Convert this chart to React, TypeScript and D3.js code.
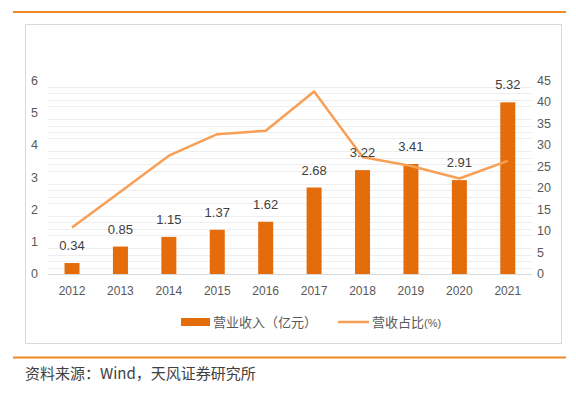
import React, { useEffect, useRef } from "react";
import * as d3 from "d3";

const years = ["2012", "2013", "2014", "2015", "2016", "2017", "2018", "2019", "2020", "2021"];
const revenue = [0.34, 0.85, 1.15, 1.37, 1.62, 2.68, 3.22, 3.41, 2.91, 5.32];
const share = [10.8, 19.1, 27.5, 32.5, 33.3, 42.4, 27.2, 25.1, 22.2, 26.3];
const leftTicks = [0, 1, 2, 3, 4, 5, 6];
const rightTicks = [0, 5, 10, 15, 20, 25, 30, 35, 40, 45];

const W = 576;
const H = 395;
const BAR = "#e46c0a";
const LINE = "#f79f55";
const FONT = "'Liberation Sans', Arial, 'Noto Sans CJK SC', sans-serif";
const CJK = "'Noto Sans CJK SC', sans-serif";

const App = () => {
  const ref = useRef<SVGSVGElement>(null);

  useEffect(() => {
    const svg = d3.select(ref.current);
    svg.selectAll("*").remove();

    const margin = { left: 47.8, right: 532, top: 80.4, bottom: 274 };

    const x = d3.scaleBand().domain(years).range([margin.left, margin.right]).padding(0);
    const yL = d3.scaleLinear().domain([0, 6]).range([margin.bottom, margin.top]);
    const yR = d3.scaleLinear().domain([0, 45]).range([margin.bottom, margin.top]);

    svg.append("rect").attr("width", W).attr("height", H).attr("fill", "#fff");

    // top and bottom orange rules
    svg.append("line").attr("x1", 13).attr("x2", 566).attr("y1", 12).attr("y2", 12)
      .attr("stroke", "#f08a24").attr("stroke-width", 2);
    svg.append("line").attr("x1", 13).attr("x2", 566).attr("y1", 357.5).attr("y2", 357.5)
      .attr("stroke", "#f08a24").attr("stroke-width", 2);

    // chart frame
    svg.append("rect").attr("x", 25.5).attr("y", 24.5).attr("width", 536).attr("height", 319)
      .attr("fill", "none").attr("stroke", "#d9d9d9");

    // minor gridlines (every 0.2, none on integers)
    const minor = d3.range(1, 30).filter((i) => i % 5 !== 0).map((i) => i * 0.2);
    svg.append("g").selectAll("line").data(minor).enter().append("line")
      .attr("x1", margin.left).attr("x2", margin.right)
      .attr("y1", (d) => Math.round(yL(d)) + 0.5).attr("y2", (d) => Math.round(yL(d)) + 0.5)
      .attr("stroke", "#eeeeee");

    // baseline
    svg.append("line").attr("x1", margin.left).attr("x2", margin.right)
      .attr("y1", margin.bottom + 0.5).attr("y2", margin.bottom + 0.5)
      .attr("stroke", "#d9d9d9");

    // left axis
    svg.append("g").selectAll("text").data(leftTicks).enter().append("text")
      .attr("x", 38).attr("y", (d) => yL(d)).attr("dy", "0.35em")
      .attr("text-anchor", "end").attr("font-family", FONT).attr("font-size", 12.5)
      .attr("fill", "#595959").text((d) => d);

    // right axis
    svg.append("g").selectAll("text").data(rightTicks).enter().append("text")
      .attr("x", 537).attr("y", (d) => yR(d)).attr("dy", "0.35em")
      .attr("text-anchor", "start").attr("font-family", FONT).attr("font-size", 12.5)
      .attr("fill", "#595959").text((d) => d);

    // x axis labels
    svg.append("g").selectAll("text").data(years).enter().append("text")
      .attr("x", (d) => x(d)! + x.bandwidth() / 2).attr("y", 291).attr("dy", "0.35em")
      .attr("text-anchor", "middle").attr("font-family", FONT).attr("font-size", 12)
      .attr("fill", "#595959").text((d) => d);

    // bars
    const bw = 15;
    svg.append("g").selectAll("rect").data(revenue).enter().append("rect")
      .attr("x", (d, i) => x(years[i])! + x.bandwidth() / 2 - bw / 2)
      .attr("y", (d) => yL(d)).attr("width", bw)
      .attr("height", (d) => yL(0) - yL(d)).attr("fill", BAR);

    // line
    const line = d3.line<number>()
      .x((d, i) => x(years[i])! + x.bandwidth() / 2)
      .y((d) => yR(d));
    svg.append("path").datum(share).attr("d", line).attr("fill", "none")
      .attr("stroke", LINE).attr("stroke-width", 2.5).attr("stroke-linejoin", "round");

    // bar value labels
    svg.append("g").selectAll("text").data(revenue).enter().append("text")
      .attr("x", (d, i) => x(years[i])! + x.bandwidth() / 2)
      .attr("y", (d) => yL(d) - 13)
      .attr("text-anchor", "middle").attr("font-family", FONT).attr("font-size", 13)
      .attr("fill", "#404040").text((d) => d.toFixed(2));

    // legend
    svg.append("rect").attr("x", 181).attr("y", 318).attr("width", 29).attr("height", 8).attr("fill", BAR);
    svg.append("text").attr("x", 213).attr("y", 322).attr("dy", "0.35em")
      .attr("font-family", CJK).attr("font-size", 13).attr("fill", "#595959").text("营业收入（亿元）");
    svg.append("line").attr("x1", 338).attr("x2", 369).attr("y1", 322).attr("y2", 322)
      .attr("stroke", LINE).attr("stroke-width", 2.5);
    const lt = svg.append("text").attr("x", 372).attr("y", 322).attr("dy", "0.35em")
      .attr("font-family", CJK).attr("font-size", 13).attr("fill", "#595959");
    lt.append("tspan").text("营收占比");
    lt.append("tspan").attr("font-size", 11).attr("font-family", FONT).text("(%)");

    // source
    svg.append("text").attr("x", 25).attr("y", 373.5).attr("dy", "0.35em")
      .attr("font-family", CJK).attr("font-size", 15).attr("fill", "#404040")
      .text("资料来源：Wind，天风证券研究所");
  }, []);

  return (
    <svg ref={ref} width={W} height={H} style={{ position: "absolute", left: 0, top: 0 }} />
  );
};

export default App;
